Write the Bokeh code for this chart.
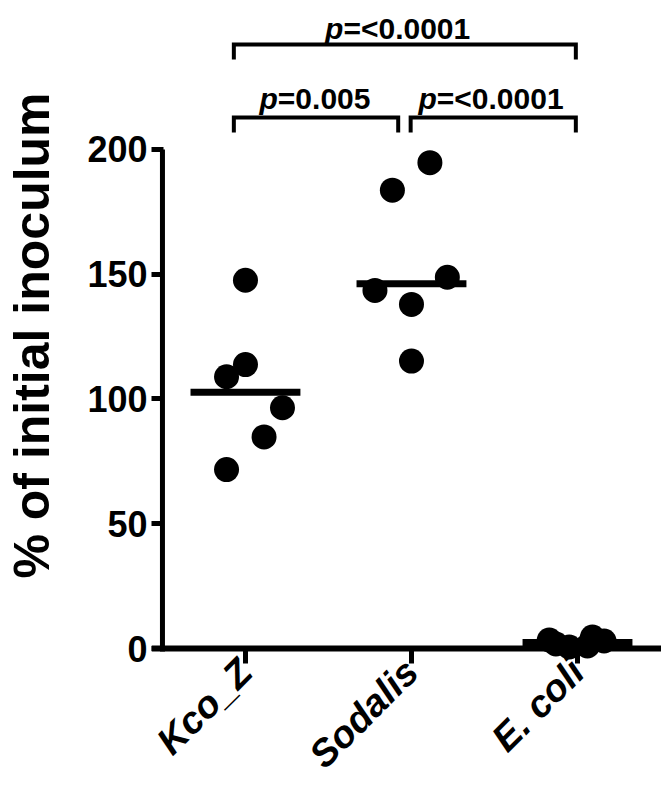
import numpy as np
from bokeh.plotting import figure
from bokeh.models import Span, FixedTicker, Range1d, ColumnDataSource
from bokeh.core.properties import value
from bokeh.embed import file_html
from bokeh.resources import INLINE

# ---- data ----
categories = ["Kco_Z", "Sodalis", "E. coli"]
kco_z = [147.6, 113.8, 108.9, 96.5, 84.8, 71.7]
sodalis = [194.7, 183.7, 143.5, 148.8, 137.9, 115.2]
e_coli = [1.8, 3.4, 0.6, 1.0, 4.6, 3.0]
# horizontal scatter offsets of the points within each column (category units)
kco_z_dx = [0.0, 0.0, -0.114, 0.223, 0.112, -0.114]
sodalis_dx = [0.111, -0.115, -0.22, 0.216, 0.0, 0.0]
e_coli_dx = [-0.13, -0.17, -0.05, 0.06, 0.09, 0.16]
y_ticks = [0, 50, 100, 150, 200]
y_label = "% of initial inoculum"
# comparisons: (first group index, second group index, p text)
comparisons = [(0, 1, "=0.005"), (1, 2, "=<0.0001"), (0, 2, "=<0.0001")]

FONT = "Liberation Sans"

groups = [kco_z, sodalis, e_coli]
offsets = [kco_z_dx, sodalis_dx, e_coli_dx]
pos = [1, 2, 3]

p = figure(width=661, height=794, output_backend="svg", toolbar_location=None,
           x_range=Range1d(0.434, 3.506), y_range=Range1d(-6.01, 256.9),
           min_border_left=151, min_border_right=0, min_border_top=7,
           min_border_bottom=131)
p.outline_line_color = None
p.grid.visible = False

# points
xs, ys = [], []
for c, vals, dx in zip(pos, groups, offsets):
    for v, d in zip(vals, dx):
        xs.append(c + d)
        ys.append(v)
p.scatter(x=xs, y=ys, size=25, color="black", line_width=0)

# median bars
med = [float(np.median(g)) for g in groups]
p.segment(x0=[c - 0.331 for c in pos], x1=[c + 0.331 for c in pos],
          y0=med, y1=med, line_width=7, color="black", line_cap="butt")

# x axis line (spans the whole frame width)
p.add_layout(Span(location=0, dimension="width", line_color="black", line_width=6))
# y axis line
p.segment(x0=[pos[0] - 0.5], x1=[pos[0] - 0.5], y0=[min(y_ticks) - 1.2],
          y1=[max(y_ticks)], line_width=5, color="black", line_cap="butt")

# axes
xa = p.xaxis[0]
xa.ticker = FixedTicker(ticks=pos)
xa.major_label_overrides = {c: n for c, n in zip(pos, categories)}
xa.axis_line_color = None
xa.major_tick_in = 15
xa.major_tick_out = 0
xa.major_tick_line_width = 5
xa.minor_tick_line_color = None
xa.major_label_orientation = np.pi / 4
xa.major_label_text_font = FONT
xa.major_label_text_font_style = "bold italic"
xa.major_label_text_font_size = "38px"
xa.major_label_text_color = "black"
xa.major_label_standoff = 2

ya = p.yaxis[0]
ya.ticker = FixedTicker(ticks=y_ticks)
ya.bounds = (min(y_ticks), max(y_ticks))
ya.axis_line_color = None
ya.major_tick_in = 12
ya.major_tick_out = 0
ya.major_tick_line_width = 5
ya.minor_tick_line_color = None
ya.major_label_text_font = FONT
ya.major_label_text_font_style = "bold"
ya.major_label_text_font_size = "36px"
ya.major_label_text_color = "black"
ya.major_label_standoff = 4
ya.axis_label = y_label
ya.axis_label_text_font = FONT
ya.axis_label_text_font_style = "bold"
ya.axis_label_text_font_size = "50px"
ya.axis_label_text_color = "black"
ya.axis_label_standoff = 24

# significance brackets
px, py, bt = [], [], []
for a, b, txt in comparisons:
    wide = (b - a) > 1
    left = pos[a] - 0.07 if a == 0 else pos[a] - 0.005
    right = pos[b] - 0.01 if b == 2 else pos[b] - 0.08
    top = 242.1 if wide else 212.8
    tip = top - 6.0
    p.multi_line(xs=[[left, left, right, right]], ys=[[tip, top, top, tip]],
                 line_width=4, color="black", line_join="miter")
    mid = (left + right) / 2
    if wide:
        split = mid - 0.37
        base = top + 6.4
    else:
        split = mid - 0.23 if a == 0 else mid - 0.34
        base = top + 7.5
    px.append(split)
    py.append(base)
    bt.append(txt)

src = ColumnDataSource(dict(x=px, y=py, t=bt, p=["p"] * len(px)))
p.text(x="x", y="y", text="p", source=src, text_font=value(FONT),
       text_font_style="bold italic", text_font_size="30px", text_align="right",
       text_baseline="alphabetic", text_color="black")
p.text(x="x", y="y", text="t", source=src, text_font=value(FONT),
       text_font_style="bold", text_font_size="30px", text_align="left",
       text_baseline="alphabetic", text_color="black")

open("out.html", "w").write(file_html(p, INLINE))
